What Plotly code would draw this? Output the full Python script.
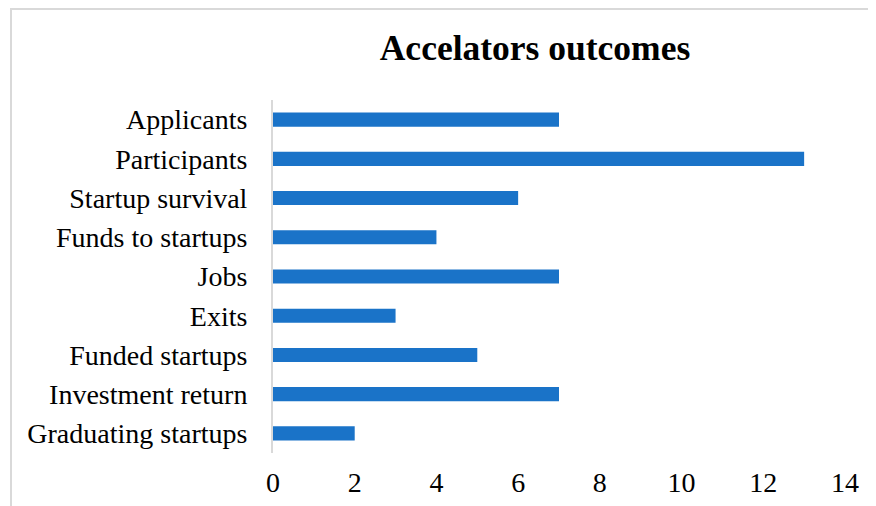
import plotly.graph_objects as go

categories = ["Applicants", "Participants", "Startup survival", "Funds to startups",
              "Jobs", "Exits", "Funded startups", "Investment return", "Graduating startups"]
values = [7, 13, 6, 4, 7, 3, 5, 7, 2]
x_ticks = [0, 2, 4, 6, 8, 10, 12, 14]

# page body has an 8px margin, so the figure is sized/shifted to compensate
W, H = 868, 498
L, T, PW, PH = 265, 92, 572, 353

fig = go.Figure(go.Bar(
    x=values, y=categories, orientation="h",
    marker=dict(color="#1a73c8", line=dict(width=0)),
    width=0.36,
))

fig.update_layout(
    width=W, height=H,
    margin=dict(l=L, r=W - L - PW, t=T, b=H - T - PH),
    paper_bgcolor="white", plot_bgcolor="white",
    font=dict(family="Liberation Serif, Times New Roman, serif", color="black", size=28),
    title=dict(text="<b>Accelators outcomes</b>", xref="paper", x=(527 - L) / PW,
               xanchor="center", y=1 - 40 / H, yanchor="middle", font=dict(size=35.5)),
    showlegend=False,
    bargap=0.64,
    xaxis=dict(range=[0, 14], tickvals=x_ticks, showgrid=False, zeroline=False,
               showline=False, ticks="", ticklabelstandoff=10, automargin=False),
    yaxis=dict(autorange="reversed", showgrid=False, zeroline=False,
               showline=True, linecolor="#d9d9d9", linewidth=2, ticks="",
               ticklabelstandoff=18, automargin=False),
    shapes=[dict(type="rect", xref="paper", yref="paper",
                 x0=(3 - L) / PW, x1=1 + 60 / PW, y0=-80 / PH, y1=1 + (T - 1) / PH,
                 line=dict(color="#d9d9d9", width=2))],
)

fig.write_html("out.html")
